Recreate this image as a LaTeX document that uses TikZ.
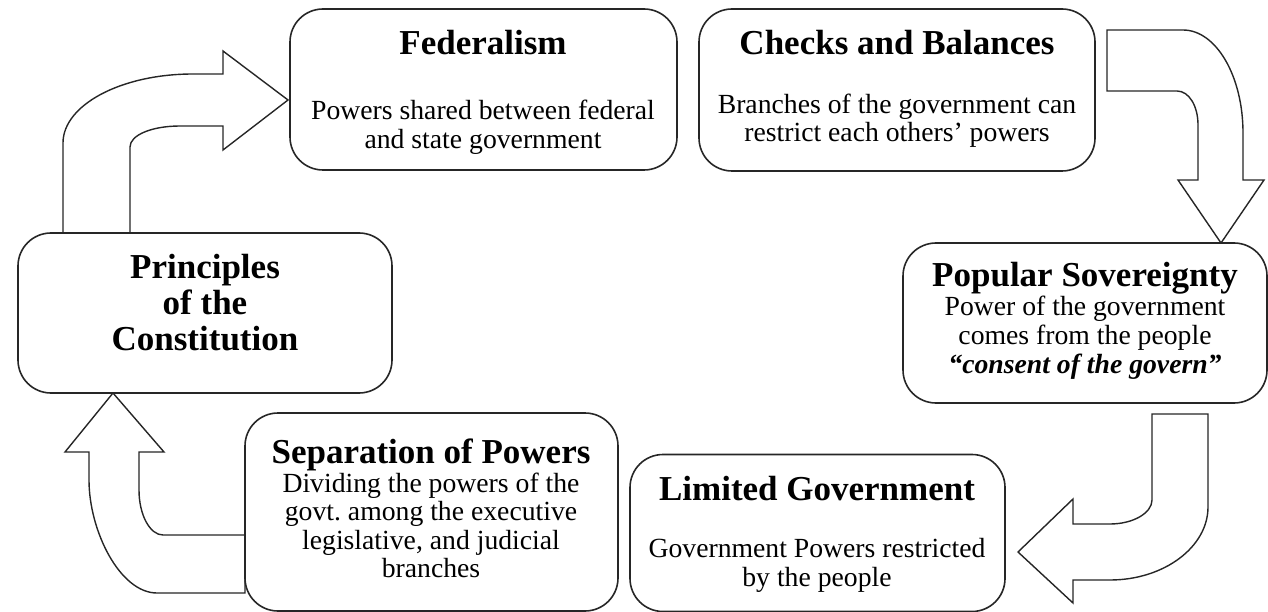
\documentclass[tikz,border=0pt]{standalone}
\usepackage{fontspec}
\setmainfont{Liberation Serif}
\frenchspacing
\begin{document}
\begin{tikzpicture}[x=1pt,y=-1pt,
  box/.style={draw=black!85, line width=1.6pt, rounded corners=33pt, fill=white, inner sep=0pt},
  blockarrow/.style={draw=black!85, line width=1.4pt, fill=white, line join=miter},
  headtxt/.style={font=\fontsize{35}{36}\selectfont\bfseries, anchor=base, inner sep=0pt},
  bodytxt/.style={font=\fontsize{27.7}{29}\selectfont, anchor=base, inner sep=0pt}]
\useasboundingbox (0,0) rectangle (1268,612);

% block arrows
\draw[blockarrow] (63,233) -- (63,143) .. controls (63,105) and (121,74) .. (193,74) -- (223,74) -- (223,51) -- (288,100) -- (223,150) -- (223,126) -- (180,126) .. controls (152,126) and (130,135) .. (130,147) -- (130,233) -- cycle;
\draw[blockarrow] (1107,30) -- (1183,30) .. controls (1216,30) and (1243,76) .. (1243,133) -- (1243,180) -- (1264,180) -- (1221,243) -- (1178,180) -- (1198,180) -- (1198,125) .. controls (1198,106) and (1189,91) .. (1177,91) -- (1107,91) -- cycle;
\draw[blockarrow] (1152,414) -- (1208,414) -- (1208,507) .. controls (1208,547) and (1164,580) .. (1110,580) -- (1073,580) -- (1073,603) -- (1018,552) -- (1073,499) -- (1073,524) -- (1110,524) .. controls (1133,524) and (1152,513) .. (1152,500) -- cycle;
\draw[blockarrow] (245,593) -- (157,593) .. controls (120,593) and (89,531) .. (89,480) -- (89,452) -- (65,452) -- (113,393) -- (164,452) -- (139,452) -- (139,490) .. controls (139,515) and (150,535) .. (163,535) -- (245,535) -- cycle;

% boxes
\node[box, minimum width=387pt, minimum height=161pt] (fed) at (483.5,89.5) {};
\node[box, minimum width=396pt, minimum height=162pt] (chk) at (897,90) {};
\node[box, minimum width=374pt, minimum height=160pt] (pri) at (205,313) {};
\node[box, minimum width=364pt, minimum height=160pt] (pop) at (1085,323) {};
\node[box, minimum width=373pt, minimum height=198pt] (sep) at (431.5,512) {};
\node[box, minimum width=375pt, minimum height=157pt] (lim) at (817.5,533) {};

% texts
\node[headtxt] (fedT) at (483,55) {Federalism};
\node[bodytxt] (fed1) at (483,120) {Powers shared between federal};
\node[bodytxt] (fed2) at (483,149) {and state government};

\node[headtxt] (chkT) at (897,55) {Checks and Balances};
\node[bodytxt] (chk1) at (897,114) {Branches of the government can};
\node[bodytxt] (chk2) at (897,142) {restrict each others’ powers};

\node[headtxt] (priT1) at (205,279) {Principles};
\node[headtxt] (priT2) at (205,314) {of the};
\node[headtxt] (priT3) at (205,350) {Constitution};

\node[headtxt] (popT) at (1085,286) {Popular Sovereignty};
\node[bodytxt] (pop1) at (1085,315) {Power of the government};
\node[bodytxt] (pop2) at (1085,344) {comes from the people};
\node[bodytxt, font=\fontsize{27.7}{29}\selectfont\bfseries\itshape] (pop3) at (1085,373) {“consent of the govern”};

\node[headtxt] (sepT) at (431,463) {Separation of Powers};
\node[bodytxt] (sep1) at (431,492) {Dividing the powers of the};
\node[bodytxt] (sep2) at (431,520) {govt. among the executive};
\node[bodytxt] (sep3) at (431,549) {legislative, and judicial};
\node[bodytxt] (sep4) at (431,577) {branches};

\node[headtxt] (limT) at (817,500) {Limited Government};
\node[bodytxt] (lim1) at (817,557) {Government Powers restricted};
\node[bodytxt] (lim2) at (817,586) {by the people};
\end{tikzpicture}
\end{document}
